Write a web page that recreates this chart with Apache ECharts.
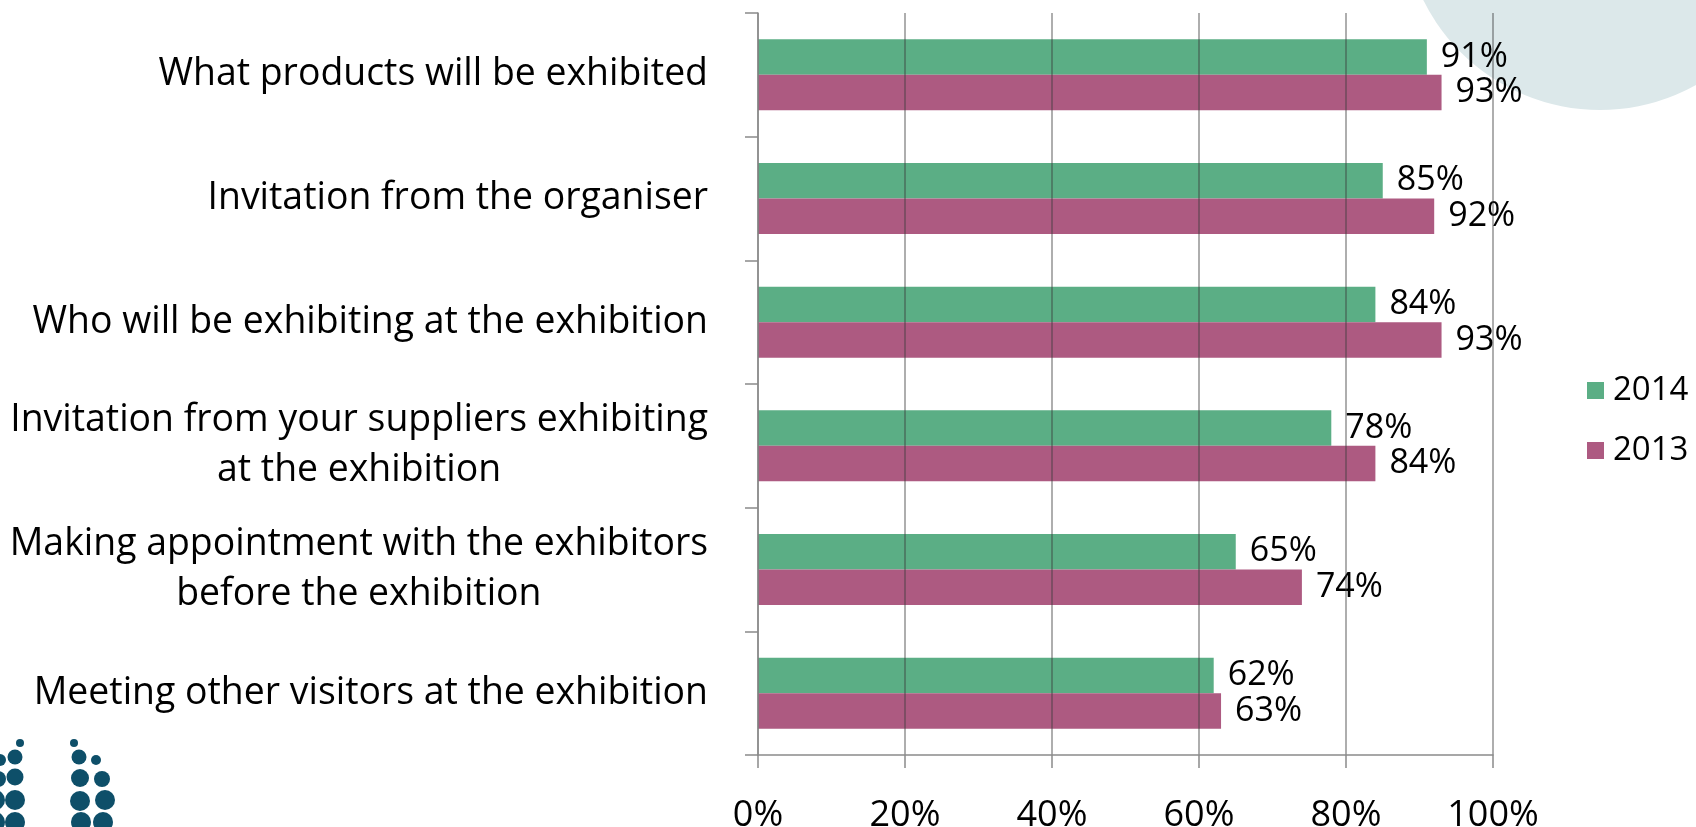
<!DOCTYPE html>
<html>
<head>
<meta charset="utf-8">
<script src="https://cdn.jsdelivr.net/npm/echarts@6/dist/echarts.min.js"></script>
<style>
  html, body { margin: 0; padding: 0; background: #ffffff; }
  #chart { width: 1696px; height: 827px; }
</style>
</head>
<body>
<div id="chart"></div>
<script>
// Reasons for visiting, listed top to bottom
const categories = [
  'What products will be exhibited',
  'Invitation from the organiser',
  'Who will be exhibiting at the exhibition',
  'Invitation from your suppliers exhibiting\nat the exhibition',
  'Making appointment with the exhibitors\nbefore the exhibition',
  'Meeting other visitors at the exhibition'
];
const seriesNames = ['2014', '2013'];
const values2014 = [91, 85, 84, 78, 65, 62];
const values2013 = [93, 92, 93, 84, 74, 63];
const xTicks = [0, 20, 40, 60, 80, 100];

const FONT = '"Open Sans", sans-serif';
const GREEN = '#5BAE85';
const PINK = '#AD5A81';
const AXIS_GRAY = '#8a8a8a';

// Decorative logo dots in the lower-left corner: [cx, cy, r]
const logoDots = [
  [20, 743, 4], [15, 757, 7.5], [0, 760, 6], [15, 777, 8.5], [-2, 779, 8],
  [15, 800, 10], [-5, 800, 10], [15, 822, 10], [-5, 822, 10],
  [74, 743, 4], [79, 757, 7.5], [96, 760, 5], [80, 778, 9], [102, 779, 8],
  [80, 801, 10], [105, 800, 10], [81, 822, 10], [103, 822, 10]
];

const chart = echarts.init(document.getElementById('chart'), null, { renderer: 'canvas' });

const barLabel = {
  show: true,
  position: 'right',
  distance: 14,
  formatter: '{c}%',
  color: '#000',
  fontFamily: FONT,
  fontSize: 34
};

const graphics = [
  {
    type: 'circle',
    z: -10,
    silent: true,
    shape: { cx: 1600, cy: -87, r: 197 },
    style: { fill: '#dce8ea' }
  }
].concat(logoDots.map(d => ({
  type: 'circle',
  silent: true,
  shape: { cx: d[0], cy: d[1], r: d[2] },
  style: { fill: '#0e4f69' }
})));

chart.setOption({
  animation: false,
  backgroundColor: '#ffffff',
  graphic: graphics,
  grid: {
    left: 758, top: 13, width: 735, height: 742,
    containLabel: false,
    outerBoundsMode: 'none'
  },
  legend: {
    orient: 'vertical',
    left: 1582,
    top: 369,
    itemWidth: 17,
    itemHeight: 17,
    itemGap: 27,
    icon: 'rect',
    data: seriesNames,
    textStyle: {
      fontFamily: FONT,
      fontSize: 33,
      lineHeight: 33,
      color: '#000',
      padding: [0, 0, 0, 4]
    }
  },
  xAxis: {
    type: 'value',
    min: xTicks[0],
    max: xTicks[xTicks.length - 1],
    interval: 20,
    z: 3,
    axisLine: { show: true, lineStyle: { color: AXIS_GRAY, width: 1.5 } },
    axisTick: { show: true, length: 13, lineStyle: { color: AXIS_GRAY, width: 1.5 } },
    splitLine: { show: true, lineStyle: { color: 'rgba(60,60,60,0.55)', width: 1.5 } },
    axisLabel: {
      formatter: '{value}%',
      margin: 43,
      color: '#000',
      fontFamily: FONT,
      fontSize: 36
    }
  },
  yAxis: {
    type: 'category',
    inverse: true,
    data: categories,
    z: 3,
    axisLine: { show: true, lineStyle: { color: AXIS_GRAY, width: 1.5 } },
    axisTick: { show: true, length: 13, alignWithLabel: false, lineStyle: { color: AXIS_GRAY, width: 1.5 } },
    splitLine: { show: false },
    axisLabel: {
      margin: 50,
      align: 'right',
      formatter: v => v.split('\n').map(l => '{c|' + l + '}').join('\n'),
      rich: {
        c: {
          align: 'center',
          fontFamily: FONT,
          fontSize: 37.4,
          lineHeight: 50,
          color: '#000'
        }
      }
    }
  },
  series: [
    {
      name: seriesNames[0],
      type: 'bar',
      data: values2014,
      barGap: '0%',
      barCategoryGap: '42.6%',
      itemStyle: { color: GREEN },
      label: barLabel
    },
    {
      name: seriesNames[1],
      type: 'bar',
      data: values2013,
      barGap: '0%',
      barCategoryGap: '42.6%',
      itemStyle: { color: PINK },
      label: barLabel
    }
  ]
});
</script>
</body>
</html>
